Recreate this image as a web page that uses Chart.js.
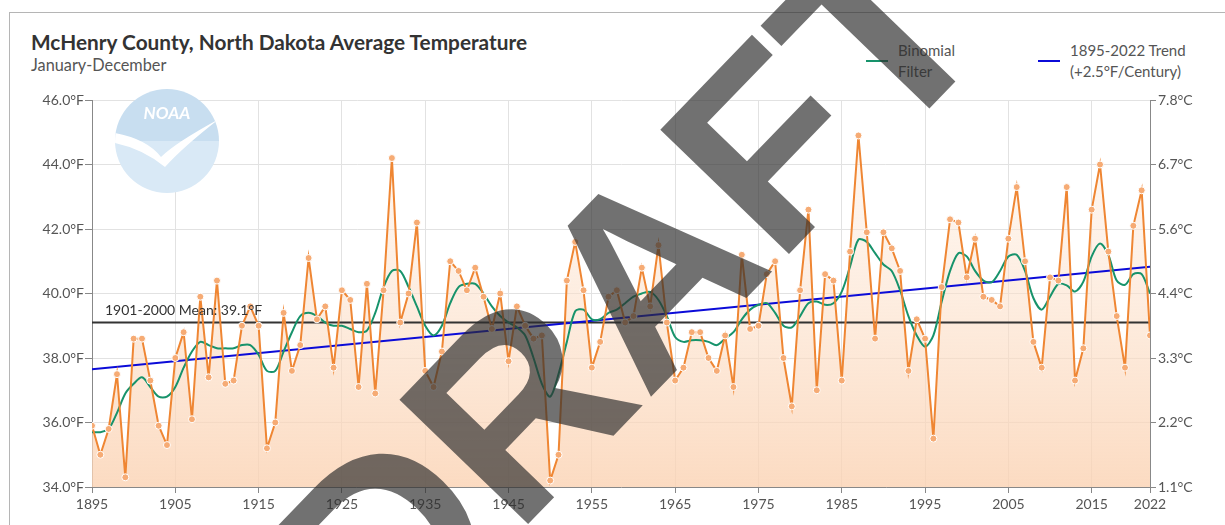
<!DOCTYPE html>
<html>
<head>
<meta charset="utf-8">
<title>McHenry County, North Dakota Average Temperature</title>
<script src="https://cdn.jsdelivr.net/npm/chart.js@4.4.1/dist/chart.umd.min.js"></script>
<style>
  body { margin: 0; background: #fff; font-family: Lato, sans-serif; overflow: hidden; }
  #frame { position: absolute; left: 9px; top: 12px; width: 1240px; height: 540px; border: 1px solid #b5b5b5; }
  #title { position: absolute; left: 31px; top: 29px; font-weight: bold; font-size: 20.8px; color: #333; }
  #subtitle { position: absolute; left: 31px; top: 55px; font-size: 16.3px; color: #555; }
  .legend { position: absolute; font-size: 15px; color: #555; line-height: 21px; }
  .legend .swatch { position: absolute; left: -32px; top: 20px; width: 22px; height: 2px; }
  #chart { position: absolute; left: 0; top: 0; }
</style>
</head>
<body>
<div id="frame"></div>
<div id="title">McHenry County, North Dakota Average Temperature</div>
<div id="subtitle">January-December</div>
<div class="legend" style="left:898px; top:40px;"><span class="swatch" style="background:#17936b"></span>Binomial<br>Filter</div>
<div class="legend" style="left:1070px; top:40px;"><span class="swatch" style="background:#0b0bd8"></span>1895-2022 Trend<br>(+2.5°F/Century)</div>
<canvas id="chart" width="1225" height="525"></canvas>
<script>
// annual average temperature, °F, 1895 .. 2022
const firstYear = 1895;
const temps = [
  35.9, 35.0, 35.8, 37.5, 34.3,                                 // 1895-1899
  38.6, 38.6, 37.3, 35.9, 35.3, 38.0, 38.8, 36.1, 39.9, 37.4,   // 1900s
  40.4, 37.2, 37.3, 39.0, 39.6, 39.0, 35.2, 36.0, 39.4, 37.6,   // 1910s
  38.4, 41.1, 39.2, 39.6, 37.7, 40.1, 39.8, 37.1, 40.3, 36.9,   // 1920s
  40.1, 44.2, 39.1, 40.0, 42.2, 37.6, 37.1, 38.2, 41.0, 40.7,   // 1930s
  40.1, 40.8, 39.9, 38.9, 40.0, 37.9, 39.6, 39.0, 38.6, 38.7,   // 1940s
  34.2, 35.0, 40.4, 41.6, 40.1, 37.7, 38.5, 39.9, 40.1, 39.1,   // 1950s
  39.3, 40.8, 39.6, 41.5, 39.1, 37.3, 37.7, 38.8, 38.8, 38.0,   // 1960s
  37.6, 38.7, 37.1, 41.2, 38.9, 39.0, 40.6, 41.0, 38.0, 36.5,   // 1970s
  40.1, 42.6, 37.0, 40.6, 40.4, 37.3, 41.3, 44.9, 41.9, 38.6,   // 1980s
  41.9, 41.4, 40.7, 37.6, 39.2, 38.6, 35.5, 40.2, 42.3, 42.2,   // 1990s
  40.5, 41.7, 39.9, 39.8, 39.6, 41.7, 43.3, 41.0, 38.5, 37.7,   // 2000s
  40.5, 40.4, 43.3, 37.3, 38.3, 42.6, 44.0, 41.3, 39.3, 37.7,   // 2010s
  42.1, 43.2, 38.7                                              // 2020-2022
];
// binomial filter
const filtered = [
  35.7, 35.7, 35.8, 36.3, 36.9,
  37.2, 37.4, 37.1, 36.8, 36.8, 37.1, 37.7, 38.2, 38.5, 38.4,
  38.3, 38.3, 38.3, 38.4, 38.4, 38.1, 37.6, 37.6, 38.2, 38.8,
  39.3, 39.4, 39.3, 39.1, 39.0, 39.0, 38.9, 38.8, 38.85, 39.4,
  40.2, 40.7, 40.7, 40.2, 39.6, 39.0, 38.7, 39.0, 39.7, 40.2,
  40.3, 40.3, 40.0, 39.6, 39.3, 39.1, 38.95, 38.7, 38.0, 37.2,
  36.8, 37.5, 38.5, 39.45, 39.5, 39.2, 39.2, 39.4, 39.5, 39.7,
  39.9, 40.0, 40.05, 39.8, 39.3, 38.65, 38.5, 38.55, 38.55, 38.5,
  38.4, 38.6, 38.8, 39.2, 39.5, 39.65, 39.7, 39.4, 39.0, 38.95,
  39.3, 39.7, 39.75, 39.65, 39.7, 40.06, 40.84, 41.67, 41.6, 41.25,
  40.9, 40.7, 40.1, 39.3, 38.7, 38.35, 38.7, 39.75, 40.7, 41.25,
  41.15, 40.7, 40.4, 40.35, 40.7, 41.15, 41.2, 40.7, 39.86, 39.5,
  39.9, 40.3, 40.25, 40.06, 40.37, 41.15, 41.55, 41.2, 40.4, 40.27,
  40.6, 40.6, 40.0
];
const trendEnds = [37.65, 40.83];   // 1895 and 2022 ends of the trend line
const centuryMean = 39.1;
const meanLabel = '1901-2000 Mean: 39.1°F';
const xTicks = [1895, 1905, 1915, 1925, 1935, 1945, 1955, 1965, 1975, 1985, 1995, 2005, 2015, 2022];
const yTicks = [34, 36, 38, 40, 42, 44, 46];

const years = temps.map((_, i) => firstYear + i);
const lastYear = years[years.length - 1];

function toC(f) {
    return ((f - 32) * 5 / 9).toFixed(1) + '°C';
}

// faint NOAA logo behind the lines
const logoPlugin = {
    id: 'logo',
    beforeDatasetsDraw(chart) {
        const ctx = chart.ctx;
        const cx = 167, cy = 141, r = 52;
        ctx.save();
        ctx.beginPath();
        ctx.arc(cx, cy, r, 0, Math.PI * 2);
        ctx.clip();
        ctx.fillStyle = '#c8def0';
        ctx.fillRect(cx - r, cy - r, r * 2, r);
        ctx.fillStyle = '#d9e9f6';
        ctx.fillRect(cx - r, cy, r * 2, r);
        // gull
        ctx.fillStyle = '#fff';
        ctx.beginPath();
        ctx.moveTo(cx - r, cy - 8);
        ctx.quadraticCurveTo(cx - 20, cy - 2, cx - 6, cy + 16);
        ctx.quadraticCurveTo(cx + 8, cy + 2, cx + r, cy - 22);
        ctx.quadraticCurveTo(cx + 16, cy + 6, cx - 2, cy + 26);
        ctx.quadraticCurveTo(cx - 24, cy + 8, cx - r, cy + 2);
        ctx.closePath();
        ctx.fill();
        ctx.font = 'italic bold 17px Lato';
        ctx.textAlign = 'center';
        ctx.textBaseline = 'middle';
        ctx.fillText('NOAA', cx, cy - 27);
        ctx.restore();
    }
};

const meanLabelPlugin = {
    id: 'meanLabel',
    afterDatasetsDraw(chart) {
        const ctx = chart.ctx;
        const y = chart.scales.y.getPixelForValue(centuryMean);
        ctx.save();
        ctx.font = '14px Lato';
        ctx.fillStyle = '#333';
        ctx.textBaseline = 'bottom';
        ctx.fillText(meanLabel, 105, y - 5);
        ctx.restore();
    }
};

const watermarkPlugin = {
    id: 'watermark',
    afterDraw(chart) {
        const ctx = chart.ctx;
        ctx.save();
        ctx.translate(640, 305);
        ctx.rotate(-46 * Math.PI / 180);
        ctx.font = 'bold 260px "Liberation Sans"';
        ctx.textAlign = 'center';
        ctx.textBaseline = 'middle';
        ctx.fillStyle = 'rgba(45, 45, 45, 0.68)';
        ctx.fillText('DRAFT', 0, 0);
        ctx.restore();
    }
};

const ctx = document.getElementById('chart').getContext('2d');

new Chart(ctx, {
    type: 'line',
    data: {
        datasets: [
            {
                label: 'Average Temperature',
                data: years.map((yr, i) => ({ x: yr, y: temps[i] })),
                borderColor: '#ef8633',
                borderWidth: 2,
                pointRadius: 3.5,
                pointBackgroundColor: '#f6ab74',
                pointBorderColor: '#fff',
                pointBorderWidth: 1,
                tension: 0,
                fill: 'start',
                backgroundColor: function(context) {
                    const area = context.chart.chartArea;
                    if (!area) return 'rgba(251,215,188,0.6)';
                    const g = context.chart.ctx.createLinearGradient(0, area.bottom, 0, area.top);
                    g.addColorStop(0, 'rgba(251, 210, 178, 0.8)');
                    g.addColorStop(1, 'rgba(253, 236, 222, 0.3)');
                    return g;
                },
                order: 0
            },
            {
                label: 'Binomial Filter',
                data: years.map((yr, i) => ({ x: yr, y: filtered[i] })),
                borderColor: '#17936b',
                borderWidth: 2,
                pointRadius: 0,
                tension: 0.3,
                fill: false,
                order: 1
            },
            {
                label: '1895-2022 Trend',
                data: [{ x: firstYear, y: trendEnds[0] }, { x: lastYear, y: trendEnds[1] }],
                borderColor: '#0b0bd8',
                borderWidth: 2,
                pointRadius: 0,
                fill: false,
                order: 2
            },
            {
                label: '1901-2000 Mean',
                data: [{ x: firstYear, y: centuryMean }, { x: lastYear, y: centuryMean }],
                borderColor: '#333',
                borderWidth: 2,
                pointRadius: 0,
                fill: false,
                order: 3
            }
        ]
    },
    options: {
        responsive: false,
        animation: false,
        devicePixelRatio: 1,
        layout: { padding: { top: 100, left: 0, right: 0, bottom: 0 } },
        plugins: {
            legend: { display: false },
            tooltip: { enabled: false },
            filler: { drawTime: 'beforeDatasetsDraw' }
        },
        scales: {
            x: {
                type: 'linear',
                min: firstYear,
                max: lastYear,
                afterBuildTicks: s => { s.ticks = xTicks.map(v => ({ value: v })); },
                afterFit: s => { s.height = 38; },
                ticks: {
                    autoSkip: false,
                    maxRotation: 0,
                    padding: 3,
                    color: '#555',
                    font: { family: 'Lato', size: 14 },
                    callback: v => String(v)
                },
                grid: { color: '#e2e2e2', tickColor: '#888', tickLength: 6 },
                border: { color: '#888' }
            },
            y: {
                min: 34,
                max: 46,
                afterBuildTicks: s => { s.ticks = yTicks.map(v => ({ value: v })); },
                afterFit: s => { s.width = 92; },
                ticks: {
                    padding: 1,
                    color: '#555',
                    font: { family: 'Lato', size: 14 },
                    callback: v => v.toFixed(1) + '°F'
                },
                grid: { color: '#e2e2e2', tickColor: '#888', tickLength: 7 },
                border: { color: '#888' }
            },
            y2: {
                position: 'right',
                min: 34,
                max: 46,
                afterBuildTicks: s => { s.ticks = yTicks.map(v => ({ value: v })); },
                afterFit: s => { s.width = 75; },
                ticks: {
                    padding: 2,
                    color: '#555',
                    font: { family: 'Lato', size: 14 },
                    callback: v => toC(v)
                },
                grid: { drawOnChartArea: false, tickColor: '#888', tickLength: 6 },
                border: { color: '#888' }
            }
        }
    },
    plugins: [logoPlugin, meanLabelPlugin, watermarkPlugin]
});
</script>
</body>
</html>
